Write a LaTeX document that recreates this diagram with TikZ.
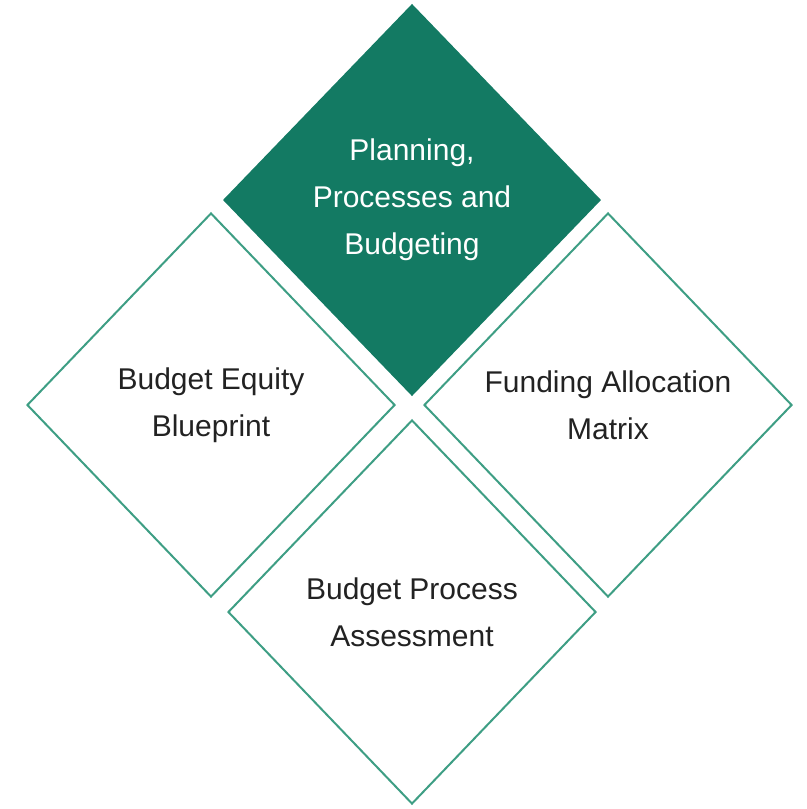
\documentclass[tikz,border=0pt]{standalone}
\usepackage{fontspec}
\setmainfont{Liberation Sans}
\usetikzlibrary{shapes.geometric}
\definecolor{darkteal}{HTML}{137A63}
\definecolor{edgeteal}{HTML}{3E9E84}
\definecolor{textgray}{HTML}{222222}
\tikzset{
  tile/.style={diamond, draw=edgeteal, line width=1pt, minimum width=184pt,
    minimum height=192pt, inner sep=0pt, align=center, text=textgray,
    font=\fontsize{15}{23.5}\selectfont},
  toptile/.style={tile, fill=darkteal, draw=darkteal, text=white,
    minimum width=188pt, minimum height=195pt},
}
\begin{document}
\begin{tikzpicture}[x=0.5pt, y=-0.5pt]
  \useasboundingbox (0,0) rectangle (807,809);
  % top tile
  \node[toptile] (planning) at (412,200) {Planning,\\Processes and\\Budgeting};
  % the three around it
  \node[tile] (equity) at (211,405) {Budget Equity\\Blueprint};
  \node[tile] (funding) at (608,405) {Funding Allocation\\Matrix};
  \node[tile] (assess) at (412,612) {Budget Process\\Assessment};
\end{tikzpicture}
\end{document}
